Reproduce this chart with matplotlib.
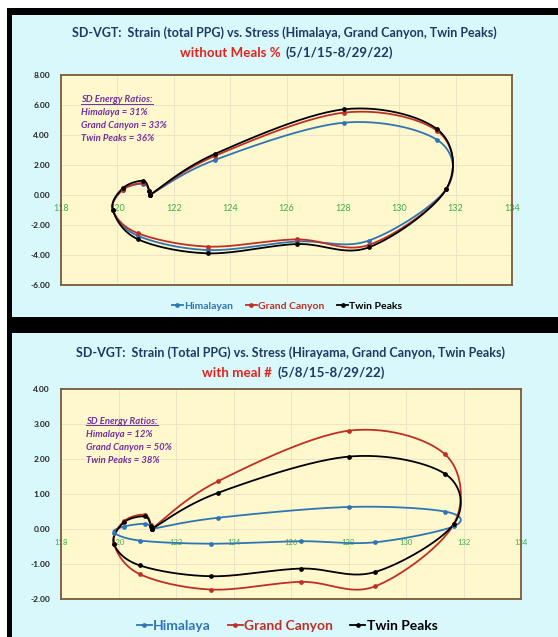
import numpy as np
import matplotlib.pyplot as plt
from matplotlib.patches import Rectangle
from matplotlib.lines import Line2D

# размеры картинки в пикселях
W, H = 558, 637

# Stress (ось X) - общие точки для всех серий
stress = [121.15, 123.45, 128.03, 131.35, 131.67, 128.92, 126.36, 123.22,
          120.74, 119.84, 120.19, 120.91, 121.13, 121.15]

# верхний график: without Meals %
top_himalaya = [0, 2.33, 4.82, 3.67, 0.40, -3.04, -3.10, -3.67, -2.73, -1.00, 0.35, 0.75, 0.30, 0]
top_canyon = [0, 2.60, 5.49, 4.27, 0.40, -3.33, -2.96, -3.44, -2.56, -1.00, 0.35, 0.80, 0.30, 0]
top_peaks = [0, 2.73, 5.71, 4.38, 0.40, -3.49, -3.27, -3.89, -2.96, -1.00, 0.45, 0.95, 0.30, 0]

# нижний график: with meal #
bot_himalaya = [0, 0.32, 0.63, 0.50, 0.08, -0.38, -0.35, -0.42, -0.33, -0.10, 0.07, 0.15, 0.05, 0]
bot_canyon = [0, 1.36, 2.81, 2.14, 0.15, -1.64, -1.51, -1.73, -1.29, -0.42, 0.22, 0.41, 0.12, 0]
bot_peaks = [0, 1.03, 2.07, 1.58, 0.15, -1.23, -1.13, -1.35, -1.04, -0.42, 0.19, 0.36, 0.10, 0]

x_ticks = [118, 120, 122, 124, 126, 128, 130, 132, 134]
top_yticks = [-6, -4, -2, 0, 2, 4, 6, 8]
bot_yticks = [-2, -1, 0, 1, 2, 3, 4]

top_ratios = ["Himalaya = 31%", "Grand Canyon = 33%", "Twin Peaks = 36%"]
bot_ratios = ["Himalaya = 12%", "Grand Canyon = 50%", "Twin Peaks = 38%"]

NAVY = '#1F3864'
TRED = '#E3231C'
C_BLUE = '#2E75B6'
C_RED = '#BE2F25'
C_BLACK = '#000000'
PURPLE = '#7030A0'
GREEN = '#3AAE4A'

plt.rcParams['font.family'] = ['Lato', 'DejaVu Sans']


def smooth(xs, ys, n=30):
    # сглаживание как в Excel (кривая Катмулла-Рома через точки)
    p = np.column_stack([xs, ys]).astype(float)
    p = np.vstack([p[0], p, p[-1]])
    out = []
    t = np.linspace(0, 1, n)[:, None]
    for i in range(1, len(p) - 2):
        p0, p1, p2, p3 = p[i - 1], p[i], p[i + 1], p[i + 2]
        c1 = p1 + (p2 - p0) / 6
        c2 = p2 - (p3 - p1) / 6
        seg = (1 - t) ** 3 * p1 + 3 * (1 - t) ** 2 * t * c1 + 3 * (1 - t) * t ** 2 * c2 + t ** 3 * p2
        out.append(seg)
    out = np.vstack(out)
    return out[:, 0], out[:, 1]


def fx(px):
    return px / W


def fy(py):
    return 1 - py / H


fig = plt.figure(figsize=(W / 100, H / 100), dpi=100)
fig.patch.set_facecolor('white')
fig.patches.append(Rectangle((fx(7), 0), 1 - fx(7), fy(8), transform=fig.transFigure,
                             facecolor='black', edgecolor='none', zorder=-3))
for top, bot in [(15, 317), (333, 637)]:
    fig.patches.append(Rectangle((fx(12), fy(bot)), 1 - fx(12), fy(top) - fy(bot),
                                 transform=fig.transFigure, facecolor='#D9F8FC',
                                 edgecolor='none', zorder=-2))


def panel(rect, series, yticks, ylim, ratios, xfs, names, legend_y, legend_fs, ratio_xy, ratio_step):
    left, top, right, bottom = rect
    ax = fig.add_axes([fx(left), fy(bottom), fx(right) - fx(left), fy(top) - fy(bottom)])
    ax.set_facecolor('#FFF8CC')
    ax.set_xlim(118, 134)
    ax.set_ylim(*ylim)
    ax.set_yticks(yticks)
    ax.set_yticklabels(["%.2f" % v for v in yticks], fontsize=6, fontweight='bold', color='#222222')
    ax.set_xticks(x_ticks)
    ax.set_xticklabels([])
    ax.tick_params(length=0, pad=8)
    ax.grid(True, color='#ECE4C6', lw=0.7)
    ax.set_axisbelow(True)
    for s in ax.spines.values():
        s.set_color('#7B5B3A')
        s.set_linewidth(1.3)
    for xt in x_ticks:
        ax.annotate(str(xt), (xt, 0), xytext=(0, -10), textcoords='offset points',
                    ha='center', va='center', fontsize=xfs, color=GREEN, zorder=1)
    handles = []
    for (ys, col), name in zip(series, names):
        sx, sy = smooth(stress, ys)
        ax.plot(sx, sy, color=col, lw=1.3, zorder=3)
        ax.plot(stress, ys, ls='none', marker='o', ms=2.4, color=col, zorder=4)
        handles.append(Line2D([], [], color=col, lw=1.3, marker='o', ms=2.4))
    fig.legend(handles, names, loc='center', bbox_to_anchor=(fx(287), fy(legend_y)),
               ncol=3, frameon=False, fontsize=legend_fs, handlelength=1.1,
               handletextpad=0.1, columnspacing=1.2, labelcolor='linecolor',
               prop={'size': legend_fs, 'weight': 'bold'})
    # SD Energy Ratios
    rx, ry = ratio_xy
    t = fig.text(fx(rx), fy(ry), "SD Energy Ratios:", fontsize=6.8, style='italic',
                 fontweight='bold', color=PURPLE, va='center')
    for i, r in enumerate(ratios):
        fig.text(fx(rx), fy(ry + ratio_step * (i + 1)), r, fontsize=6.8, style='italic',
                 fontweight='bold', color=PURPLE, va='center')
    return ax, t


ax1, u1 = panel((61, 75, 512, 285),
                [(top_himalaya, C_BLUE), (top_canyon, C_RED), (top_peaks, C_BLACK)],
                top_yticks, (-6, 8), top_ratios, 6.5,
                ["Himalayan", "Grand Canyon", "Twin Peaks"], 306, 7.5, (81, 100), 12.8)
ax2, u2 = panel((61, 389, 521, 599),
                [(bot_himalaya, C_BLUE), (bot_canyon, C_RED), (bot_peaks, C_BLACK)],
                bot_yticks, (-2, 4), bot_ratios, 5.5,
                ["Himalaya", "Grand Canyon", "Twin Peaks"], 626, 10, (86, 421), 13.3)

# заголовки
fig.text(fx(284), fy(33), "SD-VGT:  Strain (total PPG) vs. Stress (Himalaya, Grand Canyon, Twin Peaks)",
         ha='center', va='center', fontsize=9.0, fontweight='bold', color=NAVY)
fig.text(fx(281), fy(53), "without Meals %", ha='right', va='center', fontsize=9.6,
         fontweight='bold', color=TRED)
fig.text(fx(286), fy(53), "(5/1/15-8/29/22)", ha='left', va='center', fontsize=9.6,
         fontweight='bold', color=NAVY)

fig.text(fx(290), fy(353), "SD-VGT:  Strain (Total PPG) vs. Stress (Hirayama, Grand Canyon, Twin Peaks)",
         ha='center', va='center', fontsize=9.0, fontweight='bold', color=NAVY)
fig.text(fx(272), fy(373), "with meal #", ha='right', va='center', fontsize=9.6,
         fontweight='bold', color=TRED)
fig.text(fx(278), fy(373), "(5/8/15-8/29/22)", ha='left', va='center', fontsize=9.6,
         fontweight='bold', color=NAVY)

# подчеркивание "SD Energy Ratios:"
fig.canvas.draw()
r = fig.canvas.get_renderer()
for t in (u1, u2):
    bb = t.get_window_extent(r).transformed(fig.transFigure.inverted())
    fig.add_artist(Line2D([bb.x0, bb.x1], [bb.y0 + 0.001, bb.y0 + 0.001], color=PURPLE, lw=0.7,
                          transform=fig.transFigure))

fig.savefig("out.png", dpi=100)
